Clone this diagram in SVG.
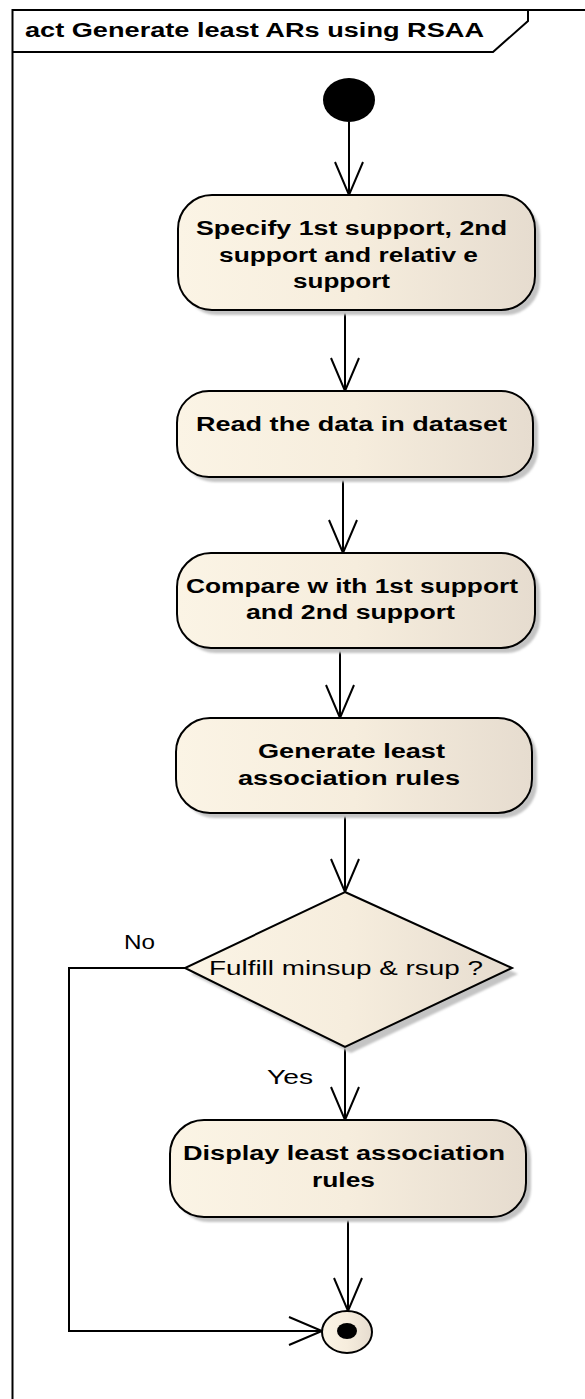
<svg xmlns="http://www.w3.org/2000/svg" width="585" height="1399" viewBox="0 0 585 1399">
<style>
.ln{fill:none;stroke:#000;stroke-width:2}
.node{stroke:#000;stroke-width:2;fill:url(#g)}
.sh{fill:#c4c4c4;filter:url(#blur)}
.bt{font-family:"Liberation Sans",Arial,sans-serif;font-weight:bold;font-size:20px;fill:#000}
.nt{font-family:"Liberation Sans",Arial,sans-serif;font-size:20px;fill:#000}
</style>
<defs>
<linearGradient id="g" x1="0" y1="0" x2="1" y2="0">
<stop offset="0" stop-color="#fbf4e5"/>
<stop offset="0.5" stop-color="#f6eddd"/>
<stop offset="1" stop-color="#e6dccf"/>
</linearGradient>
<filter id="blur" x="-10%" y="-10%" width="120%" height="120%"><feGaussianBlur stdDeviation="1.2"/></filter>
<marker id="arr" markerUnits="userSpaceOnUse" markerWidth="42" markerHeight="34" viewBox="0 0 42 34" refX="38" refY="16" orient="auto">
<path d="M5,2 L38,16 L5,30" fill="none" stroke="#000" stroke-width="2"/>
</marker>
</defs>
<rect width="585" height="1399" fill="#fff"/>
<g id="frame">
<path class="ln" d="M12.5,1399 L12.5,10 L585,10"/>
<path class="ln" d="M12.5,52 L493,52 L528,21 L528,10"/>
<text class="bt" x="25" y="37" textLength="459" lengthAdjust="spacingAndGlyphs">act Generate least ARs using RSAA</text>
</g>
<g id="connectors">
<line class="ln" x1="349" y1="122" x2="349" y2="195" marker-end="url(#arr)"/>
<line class="ln" x1="345" y1="310" x2="345" y2="391" marker-end="url(#arr)"/>
<line class="ln" x1="343" y1="477" x2="343" y2="553" marker-end="url(#arr)"/>
<line class="ln" x1="340" y1="648" x2="340" y2="718" marker-end="url(#arr)"/>
<line class="ln" x1="345" y1="813" x2="345" y2="892" marker-end="url(#arr)"/>
<line class="ln" x1="345" y1="1047" x2="345" y2="1120" marker-end="url(#arr)"/>
<line class="ln" x1="348" y1="1217" x2="348" y2="1311" marker-end="url(#arr)"/>
<polyline class="ln" points="185,968 69,968 69,1331 322,1331" marker-end="url(#arr)"/>
<text class="nt" x="124" y="949" textLength="31" lengthAdjust="spacingAndGlyphs">No</text>
<text class="nt" x="267" y="1084" textLength="46" lengthAdjust="spacingAndGlyphs">Yes</text>
</g>
<g id="start">
<ellipse cx="349" cy="100" rx="26" ry="22" fill="#000"/>
</g>
<g id="n1">
<rect class="sh" x="183" y="200" width="357" height="115" rx="34"/>
<rect class="node" x="178" y="195" width="357" height="115" rx="34"/>
<text class="bt" x="196" y="235" textLength="311" lengthAdjust="spacingAndGlyphs">Specify 1st support, 2nd</text>
<text class="bt" x="219" y="262" textLength="259" lengthAdjust="spacingAndGlyphs">support and relativ e</text>
<text class="bt" x="293" y="288" textLength="97" lengthAdjust="spacingAndGlyphs">support</text>
</g>
<g id="n2">
<rect class="sh" x="182" y="396" width="356" height="86" rx="32"/>
<rect class="node" x="177" y="391" width="356" height="86" rx="32"/>
<text class="bt" x="196" y="431" textLength="311" lengthAdjust="spacingAndGlyphs">Read the data in dataset</text>
</g>
<g id="n3">
<rect class="sh" x="182" y="558" width="358" height="95" rx="34"/>
<rect class="node" x="177" y="553" width="358" height="95" rx="34"/>
<text class="bt" x="186" y="593" textLength="332" lengthAdjust="spacingAndGlyphs">Compare w ith 1st support</text>
<text class="bt" x="246" y="619" textLength="209" lengthAdjust="spacingAndGlyphs">and 2nd support</text>
</g>
<g id="n4">
<rect class="sh" x="181" y="723" width="356" height="95" rx="34"/>
<rect class="node" x="176" y="718" width="356" height="95" rx="34"/>
<text class="bt" x="258" y="758" textLength="187" lengthAdjust="spacingAndGlyphs">Generate least</text>
<text class="bt" x="238" y="785" textLength="222" lengthAdjust="spacingAndGlyphs">association rules</text>
</g>
<g id="decision">
<polygon class="sh" points="351,898 518,974 351,1053 191,974"/>
<polygon class="node" points="345,892 512,968 345,1047 185,968"/>
<text class="nt" x="209" y="975" textLength="274" lengthAdjust="spacingAndGlyphs">Fulfill minsup &amp; rsup ?</text>
</g>
<g id="n5">
<rect class="sh" x="175" y="1125" width="356" height="97" rx="34"/>
<rect class="node" x="170" y="1120" width="356" height="97" rx="34"/>
<text class="bt" x="183" y="1160" textLength="322" lengthAdjust="spacingAndGlyphs">Display least association</text>
<text class="bt" x="312" y="1187" textLength="63" lengthAdjust="spacingAndGlyphs">rules</text>
</g>
<g id="end">
<ellipse cx="347" cy="1332" rx="25" ry="21" class="node"/>
<ellipse cx="347" cy="1331" rx="10" ry="8" fill="#000"/>
</g>
</svg>
